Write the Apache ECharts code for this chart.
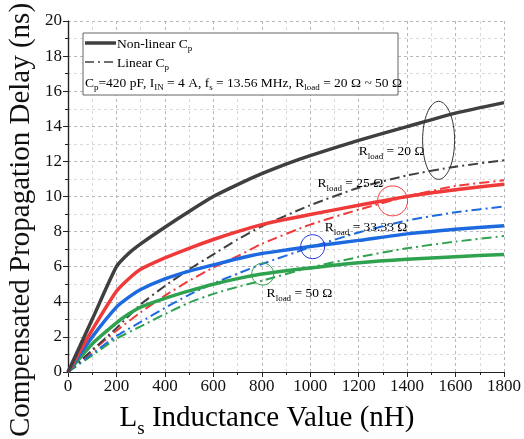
<!DOCTYPE html>
<html>
<head>
<meta charset="utf-8">
<script src="https://cdn.jsdelivr.net/npm/echarts@6/dist/echarts.min.js"></script>
<style>
  html, body { margin: 0; padding: 0; background: #fff; }
  #chart { width: 524px; height: 439px; }
</style>
</head>
<body>
<div id="chart"></div>
<script>
// inductance values (nH)
const xNonLinear = [0, 100, 200, 250, 300, 400, 500, 600, 700, 800, 900, 1000, 1200, 1400, 1600, 1800];
const xLinear = [0, 100, 200, 300, 400, 500, 600, 700, 800, 1000, 1200, 1400, 1600, 1800];

// non-linear Cp (solid), ns
const nl20 = [0, 3.0, 6.0, 6.75, 7.3, 8.25, 9.15, 10.0, 10.68, 11.3, 11.85, 12.33, 13.2, 13.98, 14.75, 15.35];
const nl25 = [0, 2.4, 4.6, 5.3, 5.85, 6.5, 7.05, 7.55, 8.0, 8.4, 8.7, 8.97, 9.5, 10.0, 10.38, 10.7];
const nl33 = [0, 2.0, 3.7, 4.25, 4.7, 5.3, 5.75, 6.1, 6.45, 6.75, 6.95, 7.15, 7.5, 7.87, 8.14, 8.34];
const nl50 = [0, 1.6, 2.8, 3.3, 3.7, 4.2, 4.62, 5.0, 5.32, 5.58, 5.77, 5.93, 6.22, 6.42, 6.57, 6.7];

// linear Cp (dash-dot), ns
const li20 = [0, 1.25, 2.5, 3.85, 4.9, 5.85, 6.7, 7.55, 8.3, 9.5, 10.5, 11.2, 11.7, 12.06];
const li25 = [0, 1.2, 2.35, 3.4, 4.35, 5.2, 5.95, 6.6, 7.3, 8.4, 9.25, 10.0, 10.6, 10.92];
const li33 = [0, 1.05, 2.05, 2.85, 3.65, 4.4, 5.05, 5.6, 6.15, 7.1, 7.95, 8.63, 9.1, 9.43];
const li50 = [0, 0.95, 1.9, 2.6, 3.3, 3.95, 4.45, 4.85, 5.2, 5.95, 6.55, 7.05, 7.43, 7.75];

const serif = '"Liberation Serif", "DejaVu Serif", serif';
const colors = { r20: '#3f3f3f', r25: '#f03a3a', r33: '#1d6ae0', r50: '#2ea24e' };

const pairs = (xs, ys) => xs.map((x, i) => [x, ys[i]]);

function solid(name, xs, ys, color) {
  return {
    name: name, type: 'line', data: pairs(xs, ys), showSymbol: false, smooth: 0.2,
    lineStyle: { color: color, width: 3.5 }, itemStyle: { color: color }, z: 3
  };
}
function dashDot(name, xs, ys, color) {
  return {
    name: name, type: 'line', data: pairs(xs, ys), showSymbol: false, smooth: 0.2,
    lineStyle: { color: color, width: 2, type: [10, 4, 2, 4] }, itemStyle: { color: color }, z: 2
  };
}

const chart = echarts.init(document.getElementById('chart'));

const axisLine = { show: true, lineStyle: { color: '#222', width: 1.2 } };
const tickLabel = { fontFamily: serif, fontSize: 17, color: '#111', margin: 6, formatter: v => String(v) };

chart.setOption({
  animation: false,
  grid: { left: 68, right: 20, top: 21, bottom: 67 },
  xAxis: [
    {
      type: 'value', min: 0, max: 1800, interval: 200,
      axisLine: axisLine,
      axisTick: { inside: false, length: 5, lineStyle: { color: '#222' } },
      minorTick: { show: true, splitNumber: 2, length: 3, lineStyle: { color: '#222' } },
      axisLabel: tickLabel,
      splitLine: { show: true, lineStyle: { color: '#b8b8b8', type: [3, 3] } },
      minorSplitLine: { show: true, lineStyle: { color: '#dadada', type: [3, 3] } }
    },
    {
      type: 'value', min: 0, max: 1800, interval: 200, position: 'top',
      axisLine: axisLine,
      axisTick: { inside: true, length: 5, lineStyle: { color: '#222' } },
      minorTick: { show: true, splitNumber: 2, length: 3, lineStyle: { color: '#222' } },
      axisLabel: { show: false }, splitLine: { show: false }
    }
  ],
  yAxis: [
    {
      type: 'value', min: 0, max: 20, interval: 2,
      axisLine: axisLine,
      axisTick: { inside: false, length: 5, lineStyle: { color: '#222' } },
      minorTick: { show: true, splitNumber: 2, length: 3, lineStyle: { color: '#222' } },
      axisLabel: tickLabel,
      splitLine: { show: true, lineStyle: { color: '#b8b8b8', type: [3, 3] } },
      minorSplitLine: { show: true, lineStyle: { color: '#dadada', type: [3, 3] } }
    },
    {
      type: 'value', min: 0, max: 20, interval: 2, position: 'right',
      axisLine: axisLine,
      axisTick: { inside: true, length: 5, lineStyle: { color: '#222' } },
      minorTick: { show: true, splitNumber: 2, length: 3, lineStyle: { color: '#222' } },
      axisLabel: { show: false }, splitLine: { show: false }
    }
  ],
  series: [
    dashDot('Linear 50', xLinear, li50, colors.r50),
    dashDot('Linear 33.33', xLinear, li33, colors.r33),
    dashDot('Linear 25', xLinear, li25, colors.r25),
    dashDot('Linear 20', xLinear, li20, colors.r20),
    solid('Non-linear 50', xNonLinear, nl50, colors.r50),
    solid('Non-linear 33.33', xNonLinear, nl33, colors.r33),
    solid('Non-linear 25', xNonLinear, nl25, colors.r25),
    solid('Non-linear 20', xNonLinear, nl20, colors.r20)
  ]
});

// annotations placed in data coordinates
const px = (x, y) => chart.convertToPixel({ gridIndex: 0 }, [x, y]);
function richFor(color, size) {
  return {
    a: { fontFamily: serif, fontSize: size, color: color },
    s: { fontFamily: serif, fontSize: Math.round(size * 0.65), color: color, padding: [Math.round(size * 0.75), 0, 0, 0] }
  };
}
const sub = richFor('#111', 13.5);

function label(x, y, value, color) {
  const p = px(x, y);
  return {
    type: 'text', x: p[0], y: p[1], z: 10,
    style: { text: '{a|R}{s|load}{a| = ' + value + ' Ω}', rich: richFor(color, 13.5), verticalAlign: 'middle' }
  };
}
function ring(x, y, rx, ry, color) {
  const p = px(x, y);
  return {
    type: 'ellipse', z: 10, shape: { cx: p[0], cy: p[1], rx: rx, ry: ry },
    style: { fill: 'none', stroke: color, lineWidth: 1 }
  };
}

chart.setOption({
  graphic: [
    // axis titles
    { type: 'text', x: 267, y: 418, z: 5,
      style: { text: '{a|L}{s|s}{a| Inductance Value (nH)}', rich: richFor('#111', 29), align: 'center', verticalAlign: 'middle' } },
    { type: 'text', x: 21, y: 220, z: 5, rotation: Math.PI / 2,
      style: { text: 'Compensated Propagation Delay (ns)', fontFamily: serif, fontSize: 29, fill: '#111', align: 'center', verticalAlign: 'middle' } },
    // legend box
    { type: 'rect', z: 20, shape: { x: 83, y: 33, width: 315, height: 62 },
      style: { fill: '#fff', stroke: '#666', lineWidth: 1 } },
    { type: 'line', z: 21, shape: { x1: 85, y1: 43, x2: 116, y2: 43 },
      style: { stroke: '#3f3f3f', lineWidth: 3.5 } },
    { type: 'text', z: 21, x: 117, y: 44,
      style: { text: '{a|Non-linear C}{s|p}', rich: sub, verticalAlign: 'middle' } },
    { type: 'line', z: 21, shape: { x1: 85, y1: 62, x2: 116, y2: 62 },
      style: { stroke: '#3f3f3f', lineWidth: 1.5, lineDash: [9, 4, 2, 4] } },
    { type: 'text', z: 21, x: 117, y: 63,
      style: { text: '{a|Linear C}{s|p}', rich: sub, verticalAlign: 'middle' } },
    { type: 'text', z: 21, x: 85, y: 83,
      style: {
        text: '{a|C}{s|p}{a|=420 pF, I}{s|IN}{a| = 4 A, f}{s|s}{a| = 13.56 MHz, R}{s|load}{a| = 20 Ω ~ 50 Ω}',
        rich: sub, verticalAlign: 'middle'
      } },
    // curve annotations
    label(1200, 12.55, '20', '#444'),
    ring(1530, 13.2, 16, 39, '#333'),
    label(1030, 10.75, '25', colors.r25),
    ring(1340, 9.75, 15, 15, colors.r25),
    label(1060, 8.25, '33.33', '#2233dd'),
    ring(1010, 7.14, 12, 12, '#2233dd'),
    label(820, 4.45, '50', colors.r50),
    ring(804, 5.58, 11, 11, colors.r50)
  ]
});
</script>
</body>
</html>
